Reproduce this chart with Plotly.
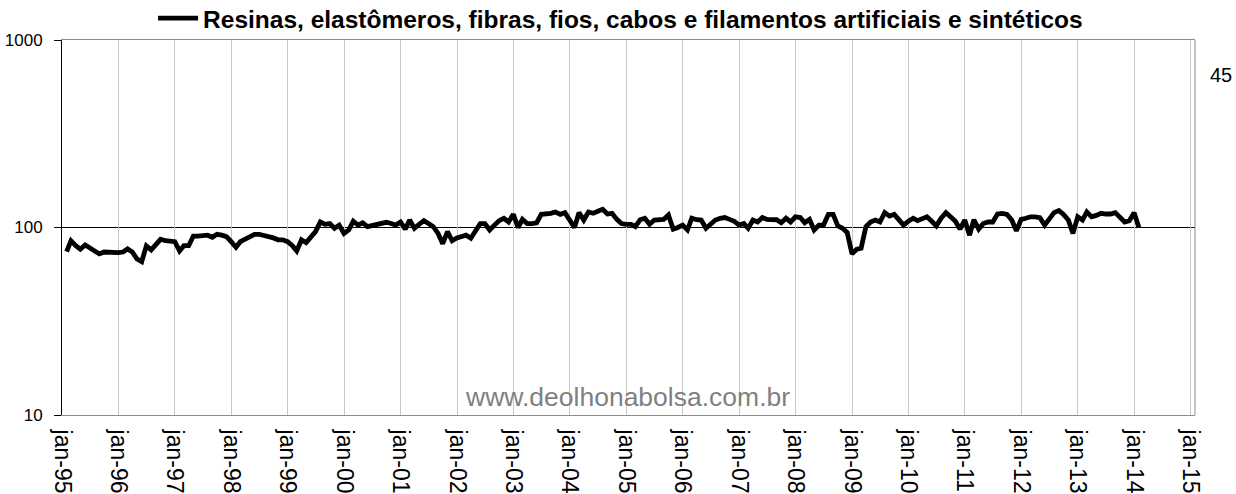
import pandas as pd
import plotly.graph_objects as go

# Monthly index, Jan 1995 - Jan 2014 (month-end dates)
series_name = "Resinas, elastômeros, fibras, fios, cabos e filamentos artificiais e sintéticos"
values = [
    74.4, 85, 80, 76.6, 80.7, 78, 75.9, 72.3, 74, 73.5, 74, 73.5,
    74, 76.8, 74, 68, 65.8, 79.8, 76, 82, 86.5, 85, 84, 84,
    75, 80, 80, 90, 90, 90.5, 91, 88.7, 92, 91, 89.4, 84,
    78.5, 84, 87, 90, 92, 92, 91, 90, 88, 86, 86, 84,
    80, 75, 86, 83, 90, 95, 107, 104, 105, 99, 103, 93,
    97, 108, 103, 106, 101, 102, 104, 104, 106.6, 105, 103, 107,
    98, 109.6, 99, 104, 108.7, 105, 101, 93, 82, 95, 85, 88,
    90, 91, 87.6, 97, 105, 105, 97, 103, 108.7, 112, 107, 117.5,
    100, 110.5, 105, 105, 106, 117.5, 118, 119, 121, 117.5, 120, 108.7,
    100, 120, 109.6, 121, 119, 122, 125, 118, 119, 110.5, 105, 104,
    104, 101, 110, 112, 104, 109.6, 110, 110.5, 116.5, 98, 100, 103,
    97, 112, 110, 109.6, 99, 105, 109.6, 112, 113, 110.5, 108, 103,
    105, 99, 109.6, 107, 113, 110.5, 111, 110, 106, 112, 107, 114,
    113, 106, 110.5, 97, 103, 103, 117.5, 117.5, 102, 99, 94, 72.3,
    76.6, 77.5, 101, 107, 109.6, 107, 120, 115, 117.5, 110.5, 103, 108,
    112, 108.7, 112, 114, 108, 102, 112, 120, 114, 108, 98, 109.6,
    91, 110, 98, 105, 107, 107, 118, 119, 117.5, 109.6, 96, 110.5,
    112, 114, 114, 112.7, 103, 110, 120, 123, 117.5, 109.6, 93, 114,
    109.6, 121, 114, 116, 119, 118, 118, 120, 114, 107, 108.7, 120,
    100,
]
dates = pd.date_range("1995-01-01", periods=len(values), freq="MS") + pd.offsets.MonthEnd(0)

tick_years = list(range(1995, 2016))
tick_vals = [f"{y}-01-01" for y in tick_years]
tick_text = [f"jan-{y % 100:02d}" for y in tick_years]
y_ticks = [10, 100, 1000]
y_labels = ["10", "100", "1000"]
reference_level = 100
page_number = "45"
site = "www.deolhonabolsa.com.br"

FONT = "Arial, 'Liberation Sans', sans-serif"

fig = go.Figure()
fig.add_trace(go.Scatter(
    x=dates, y=values, mode="lines", name=series_name,
    line=dict(color="black", width=4.8),
))

# baseline at the reference level
fig.add_shape(type="line", xref="paper", x0=0, x1=1, yref="y",
              y0=reference_level, y1=reference_level,
              line=dict(color="black", width=1), layer="below")
# right border of the plot area
fig.add_shape(type="line", xref="paper", x0=1, x1=1, yref="paper", y0=0, y1=1,
              line=dict(color="#8c8c8c", width=1))

fig.add_annotation(text=page_number, xref="paper", yref="paper", x=1.023, y=0.906,
                   showarrow=False, xanchor="center", yanchor="middle",
                   font=dict(family=FONT, size=20, color="black"))
fig.add_annotation(text=site, xref="paper", yref="paper", x=0.499, y=0.047,
                   showarrow=False, xanchor="center", yanchor="middle",
                   font=dict(family=FONT, size=26.5, color="#808080"))

fig.update_layout(
    width=1236, height=494,
    margin=dict(l=62, r=41, t=40, b=79, autoexpand=False),
    paper_bgcolor="white", plot_bgcolor="white",
    font=dict(family=FONT, color="black"),
    showlegend=True,
    legend=dict(orientation="h", x=0.493, xanchor="center", y=1.058, yanchor="middle",
                font=dict(family=FONT, size=24.5, color="black", weight="bold"),
                bgcolor="rgba(0,0,0,0)", borderwidth=0, itemwidth=40),
    xaxis=dict(
        type="date", range=["1995-01-01", "2015-01-29"], automargin=False,
        tickmode="array", tickvals=tick_vals, ticktext=tick_text,
        tickangle=90, tickfont=dict(family=FONT, size=23, color="black"),
        ticklabelstandoff=9,
        showgrid=True, gridcolor="#c8c8c8", gridwidth=1,
        showline=True, linecolor="#8c8c8c", linewidth=1, mirror=True,
        ticks="", zeroline=False,
    ),
    yaxis=dict(
        type="log", range=[1, 3], automargin=False,
        tickmode="array", tickvals=y_ticks, ticktext=y_labels,
        tickfont=dict(family=FONT, size=17, color="black"),
        showgrid=False, zeroline=False,
        showline=True, linecolor="black", linewidth=1,
        ticks="outside", ticklen=7, tickcolor="black",
        ticklabelstandoff=8,
    ),
)

fig.write_html("out.html")
